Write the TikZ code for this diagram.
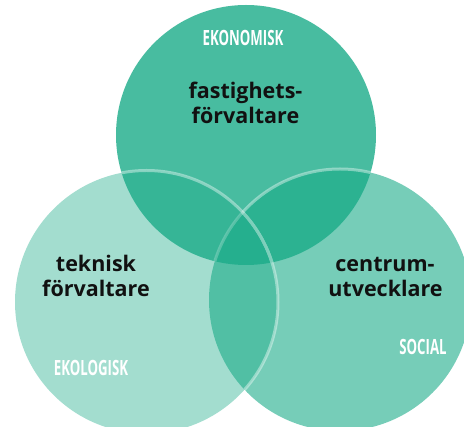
\documentclass[tikz,border=0pt]{standalone}
\usepackage{fontspec}
\setmainfont{Open Sans}
\newfontfamily\capsfont[FakeStretch=0.63]{Open Sans}
\definecolor{vg}{RGB}{26,171,136}
\definecolor{labelblack}{RGB}{17,17,17}
\tikzset{
  mainlabel/.style={font=\fontsize{21.5}{25}\selectfont\bfseries, text=labelblack, anchor=base, inner sep=0pt},
  capslabel/.style={font=\capsfont\fontsize{21}{24}\selectfont\bfseries, text=white, anchor=base, inner sep=0pt},
  rim/.style={draw=white, line width=3pt}
}
\begin{document}
\begin{tikzpicture}[x=1pt,y=-1pt]
\useasboundingbox (0,0) rectangle (464,427);
\clip (0,0) rectangle (464,427);
% circles
\coordinate (ctop) at (246,135);
\coordinate (cleft) at (146.5,302);
\coordinate (cright) at (340,300);
\fill[vg, opacity=0.8] (ctop) circle[radius=130];
\fill[vg, opacity=0.6] (cright) circle[radius=131];
\begin{scope}
  \clip (ctop) circle[radius=130];
  \draw[rim, opacity=0.4] (cright) circle[radius=131];
\end{scope}
\fill[vg, opacity=0.4] (cleft) circle[radius=131.5];
\begin{scope}[transparency group, opacity=0.4]
  \begin{scope}
    \clip (ctop) circle[radius=130];
    \draw[rim] (cleft) circle[radius=131.5];
  \end{scope}
  \begin{scope}
    \clip (cright) circle[radius=131];
    \draw[rim] (cleft) circle[radius=131.5];
  \end{scope}
\end{scope}
% labels
\node[capslabel] (eko) at (243,46) {EKONOMISK};
\node[mainlabel] (fa) at (245.5,99) {fastighets-};
\node[mainlabel] (fb) at (245.5,124) {förvaltare};
\node[mainlabel] (ta) at (96,272) {teknisk};
\node[mainlabel] (tb) at (96,297) {förvaltare};
\node[mainlabel] (ca) at (385,272) {centrum-};
\node[mainlabel] (cb) at (385.5,297) {utvecklare};
\node[capslabel] (ekol) at (91,376) {EKOLOGISK};
\node[capslabel] (soc) at (423,355) {SOCIAL};
\end{tikzpicture}
\end{document}
